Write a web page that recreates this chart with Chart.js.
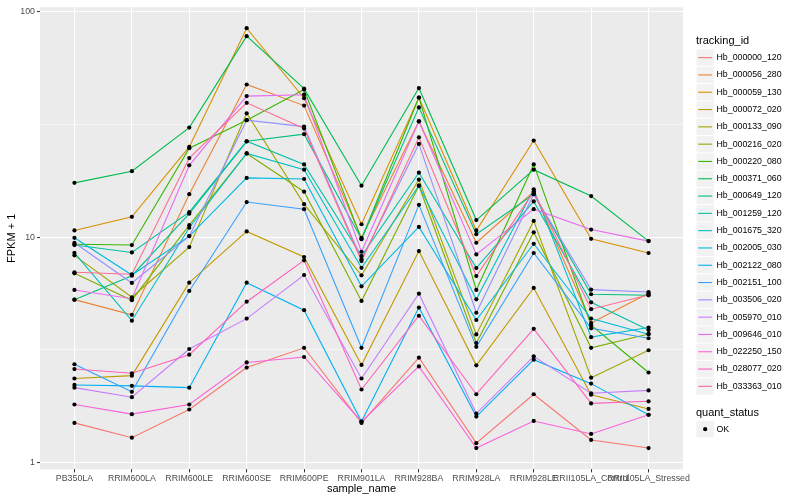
<!DOCTYPE html>
<html>
<head>
<meta charset="utf-8">
<script src="https://cdn.jsdelivr.net/npm/chart.js@4.4.1/dist/chart.umd.min.js"></script>
<style>
  html, body { margin: 0; padding: 0; background: #fff; }
</style>
</head>
<body>
<canvas id="myChart" width="800" height="500"></canvas>
<script>
// x categories
var samples = ['PB350LA', 'RRIM600LA', 'RRIM600LE', 'RRIM600SE', 'RRIM600PE', 'RRIM901LA',
               'RRIM928BA', 'RRIM928LA', 'RRIM928LE', 'RRII105LA_Control', 'RRII105LA_Stressed'];

// FPKM + 1 per gene, one value per sample
var hb_000000_120 = [1.50, 1.29, 1.72, 2.64, 3.23, 1.50, 2.92, 1.22, 2.01, 1.26, 1.16];
var hb_000056_280 = [5.28, 4.52, 15.5, 47.5, 38.3, 9.93, 32.6, 9.44, 15.9, 4.16, 5.64];
var hb_000059_130 = [10.7, 12.3, 25.1, 84.4, 41.3, 11.4, 41.6, 10.7, 26.8, 9.83, 8.50];
var hb_000072_020 = [2.36, 2.43, 6.28, 10.6, 8.16, 2.71, 8.67, 2.70, 5.95, 2.00, 1.73];
var hb_000133_090 = [8.30, 5.41, 9.03, 35.4, 14.0, 6.77, 18.0, 3.70, 11.8, 2.38, 3.15];
var hb_000216_020 = [6.91, 5.25, 11.3, 23.5, 15.9, 5.21, 16.9, 3.39, 10.5, 3.23, 3.72];
var hb_000220_080 = [9.29, 9.22, 24.8, 33.0, 45.1, 9.80, 41.6, 5.83, 21.0, 4.07, 2.51];
var hb_000371_060 = [17.4, 19.6, 30.6, 77.8, 45.5, 16.9, 45.8, 11.9, 19.9, 15.2, 9.60];
var hb_000649_120 = [5.28, 6.74, 12.7, 26.6, 28.6, 9.80, 37.6, 10.3, 15.5, 5.58, 5.52];
var hb_001259_120 = [9.22, 8.55, 12.9, 26.6, 21.0, 8.24, 19.3, 7.29, 14.4, 5.14, 3.87];
var hb_001675_320 = [8.52, 4.26, 11.0, 23.5, 19.9, 7.31, 16.9, 5.30, 16.3, 3.60, 3.97];
var hb_002005_030 = [9.93, 6.79, 10.1, 18.3, 18.1, 6.05, 11.1, 4.29, 9.34, 4.35, 3.71];
var hb_002122_080 = [2.21, 2.19, 2.15, 6.28, 4.74, 1.52, 4.87, 1.60, 2.86, 2.24, 1.63];
var hb_002151_100 = [2.73, 2.06, 5.77, 14.3, 13.3, 3.23, 13.9, 3.26, 8.50, 3.94, 3.56];
var hb_003506_020 = [9.44, 6.26, 10.1, 33.0, 30.9, 7.97, 25.9, 4.62, 15.5, 5.85, 5.71];
var hb_005970_010 = [2.15, 1.95, 3.19, 4.35, 6.79, 2.36, 5.61, 1.65, 2.96, 2.03, 2.09];
var hb_009646_010 = [5.83, 5.33, 20.8, 42.2, 42.8, 8.61, 32.6, 8.38, 13.3, 10.8, 9.60];
var hb_022250_150 = [1.81, 1.64, 1.81, 2.78, 2.94, 1.52, 2.67, 1.16, 1.53, 1.34, 1.63];
var hb_028077_020 = [2.60, 2.49, 3.01, 5.17, 7.89, 2.11, 4.48, 2.01, 3.92, 1.83, 1.87];
var hb_033363_010 = [6.98, 6.84, 22.4, 39.4, 30.3, 7.83, 27.7, 6.72, 15.9, 4.79, 5.54];

var ids = ['Hb_000000_120', 'Hb_000056_280', 'Hb_000059_130', 'Hb_000072_020', 'Hb_000133_090',
           'Hb_000216_020', 'Hb_000220_080', 'Hb_000371_060', 'Hb_000649_120', 'Hb_001259_120',
           'Hb_001675_320', 'Hb_002005_030', 'Hb_002122_080', 'Hb_002151_100', 'Hb_003506_020',
           'Hb_005970_010', 'Hb_009646_010', 'Hb_022250_150', 'Hb_028077_020', 'Hb_033363_010'];
var series = [hb_000000_120, hb_000056_280, hb_000059_130, hb_000072_020, hb_000133_090,
              hb_000216_020, hb_000220_080, hb_000371_060, hb_000649_120, hb_001259_120,
              hb_001675_320, hb_002005_030, hb_002122_080, hb_002151_100, hb_003506_020,
              hb_005970_010, hb_009646_010, hb_022250_150, hb_028077_020, hb_033363_010];
// ggplot default hue palette, 20 levels
var colors = ['#F8766D', '#EA8331', '#D89000', '#C09B00', '#A3A500', '#7CAE00', '#39B600',
              '#00BB4E', '#00BF7D', '#00C1A3', '#00BFC4', '#00BAE0', '#00B0F6', '#35A2FF',
              '#9590FF', '#C77CFF', '#E76BF3', '#FA62DB', '#FF62BC', '#FF6C91'];

var yTicks = [1, 3.1623, 10, 31.623, 100];
var FONT = '"Liberation Sans", Arial, sans-serif';

var datasets = [];
var allPoints = [];
for (var i = 0; i < series.length; i++) {
  var pts = series[i].map(function(v, j) { return {x: j, y: v}; });
  allPoints = allPoints.concat(pts);
  datasets.push({
    type: 'line',
    label: ids[i],
    data: pts,
    borderColor: colors[i],
    borderWidth: 1.1,
    pointRadius: 0,
    fill: false,
    tension: 0,
    order: series.length - i
  });
}
datasets.push({
  type: 'scatter',
  label: 'OK',
  data: allPoints,
  backgroundColor: '#000',
  borderWidth: 0,
  pointRadius: 2.1,
  order: 0
});

// grey panel like ggplot
var panelBg = {
  id: 'panelBg',
  beforeDraw: function(chart) {
    var a = chart.chartArea, c = chart.ctx;
    c.save();
    c.fillStyle = '#EBEBEB';
    c.fillRect(a.left, a.top, a.right - a.left, a.bottom - a.top);
    c.restore();
  }
};

// legend on the right, drawn by hand
var sideLegend = {
  id: 'sideLegend',
  afterDraw: function(chart) {
    var c = chart.ctx;
    var lx = 696.5, y0 = 49, ks = 17.3;
    c.save();
    c.textBaseline = 'middle';
    c.textAlign = 'left';
    c.fillStyle = '#000';
    c.font = '11px ' + FONT;
    c.fillText('tracking_id', 696, 41);
    for (var i = 0; i < ids.length; i++) {
      var y = y0 + i * ks;
      c.fillStyle = '#F2F2F2';
      c.fillRect(lx, y + 0.5, ks, ks - 1);
      c.strokeStyle = colors[i];
      c.lineWidth = 1.1;
      c.beginPath();
      c.moveTo(lx + 1.7, y + ks / 2);
      c.lineTo(lx + ks - 1.7, y + ks / 2);
      c.stroke();
      c.fillStyle = '#000';
      c.font = '8.8px ' + FONT;
      c.fillText(ids[i], 716.5, y + ks / 2);
    }
    c.font = '11px ' + FONT;
    c.fillText('quant_status', 696, 412.5);
    c.fillStyle = '#F2F2F2';
    c.fillRect(lx, 421, ks, ks - 1);
    c.fillStyle = '#000';
    c.beginPath();
    c.arc(lx + ks / 2, 421 + ks / 2 - 0.5, 2.1, 0, Math.PI * 2);
    c.fill();
    c.font = '8.8px ' + FONT;
    c.fillText('OK', 716.5, 421 + ks / 2 - 0.5);
    c.restore();
  }
};

var ctx = document.getElementById('myChart');
var myChart = new Chart(ctx, {
  data: { datasets: datasets },
  plugins: [panelBg, sideLegend],
  options: {
    responsive: false,
    animation: false,
    devicePixelRatio: 1,
    layout: { padding: { top: 5.2, right: 117, bottom: 0, left: 0 } },
    plugins: { legend: { display: false }, tooltip: { enabled: false } },
    scales: {
      x: {
        type: 'linear',
        min: -0.6,
        max: 10.6,
        afterBuildTicks: function(s) { s.ticks = samples.map(function(_, i) { return {value: i}; }); },
        afterFit: function(s) { s.height = 30.6; },
        ticks: {
          callback: function(v) { return samples[v]; },
          autoSkip: false, maxRotation: 0, minRotation: 0,
          color: '#4D4D4D', font: { family: FONT, size: 8.8 }, padding: 1
        },
        grid: { color: '#FFFFFF', lineWidth: 1.1, drawTicks: true, tickLength: 3, tickColor: '#333333', tickWidth: 1 },
        border: { display: false },
        title: { display: true, text: 'sample_name', color: '#000', font: { family: FONT, size: 11 }, padding: { top: 0, bottom: 4.8 } }
      },
      y: {
        type: 'logarithmic',
        min: 0.933,
        max: 104.5,
        afterBuildTicks: function(s) { s.ticks = yTicks.map(function(v) { return {value: v}; }); },
        afterFit: function(s) { s.width = 40; },
        ticks: {
          callback: function(v, idx) { return idx % 2 === 0 ? String(Math.round(v)) : ''; },
          color: '#4D4D4D', font: { family: FONT, size: 8.8 }, padding: 2
        },
        grid: {
          color: '#FFFFFF',
          lineWidth: function(c) { return c.index % 2 === 0 ? 1.1 : 0.55; },
          drawTicks: true, tickLength: 3, tickWidth: 1,
          tickColor: function(c) { return c.index % 2 === 0 ? '#333333' : 'rgba(0,0,0,0)'; }
        },
        border: { display: false },
        title: { display: true, text: 'FPKM + 1', color: '#000', font: { family: FONT, size: 11 }, padding: { top: 5.4, bottom: 0 } }
      }
    }
  }
});
</script>
</body>
</html>
